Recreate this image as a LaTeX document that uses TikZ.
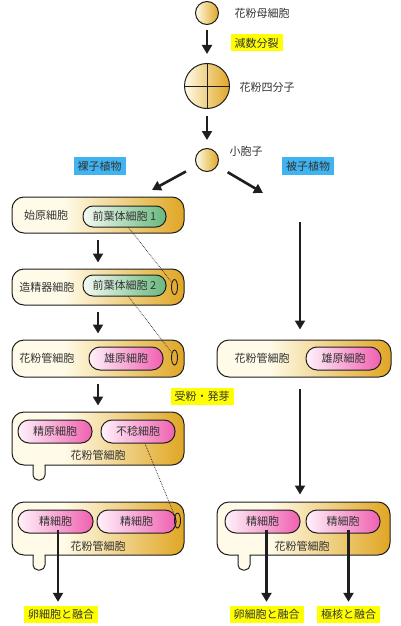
\documentclass[tikz,border=0pt]{standalone}
\usepackage{fontspec}
\newfontfamily\jp{Noto Sans CJK JP}
\usetikzlibrary{arrows.meta,shapes.geometric}
\definecolor{creamc}{RGB}{255,251,232}
\definecolor{goldc}{RGB}{224,166,36}
\definecolor{pinkc}{RGB}{240,96,176}
\definecolor{pinkl}{RGB}{255,242,250}
\definecolor{greenc}{RGB}{104,184,124}
\definecolor{greenl}{RGB}{244,250,244}
\definecolor{bluec}{RGB}{64,180,240}
\definecolor{yellowc}{RGB}{255,255,0}
\definecolor{txt}{RGB}{51,51,51}
\definecolor{linec}{RGB}{30,30,30}
\pgfdeclarehorizontalshading{boxshade}{100bp}{color(0bp)=(creamc); color(25bp)=(creamc); color(40bp)=(creamc); color(75bp)=(goldc); color(100bp)=(goldc)}
\begin{document}
\begin{tikzpicture}[x=1pt,y=-1pt,
  font=\jp\fontsize{11}{13}\selectfont, text=txt,
  outer/.style={draw=linec, line width=1pt, rounded corners=12pt, shade, shading=boxshade, inner sep=0pt},
  cell/.style={circle, draw=linec, line width=1pt, left color=creamc, right color=goldc, inner sep=0pt},
  gpill/.style={draw=linec, line width=1pt, rounded corners=10pt, left color=greenl, right color=greenc, minimum height=21pt, inner sep=0pt},
  ppill/.style={draw=linec, line width=1pt, rounded corners=11pt, left color=pinkl, right color=pinkc, minimum height=23pt, inner sep=0pt},
  ylab/.style={fill=yellowc, inner xsep=4pt, inner ysep=0pt, minimum height=17pt},
  blab/.style={fill=bluec, inner xsep=4pt, inner ysep=0pt, minimum height=18pt},
  oval/.style={ellipse, draw=linec, line width=0.9pt, minimum width=6pt, minimum height=15pt, inner sep=0pt},
  tabfill/.style={fill=creamc, rounded corners=5pt},
  tabline/.style={draw=linec, line width=1pt, rounded corners=5pt},
  dotline/.style={densely dotted, line width=0.7pt, draw=linec},
  arr/.style={draw=linec, line width=2.6pt, -{Triangle[length=9pt,width=10pt]}}
]
\useasboundingbox (0,0) rectangle (400,626);

% top cells
\node[cell, minimum size=23pt] (c1) at (207,13) {};
\node[anchor=west] (t1) at (231,13) {花粉母細胞};
\node[ylab] (l1) at (256.5,43) {減数分裂};
\node[cell, minimum size=45pt] (c2) at (207,86) {};
\draw[line width=1pt, draw=linec] (c2.north) -- (c2.south) (c2.west) -- (c2.east);
\node[anchor=west] (t2) at (236,87) {花粉四分子};
\node[cell, minimum size=23pt] (c3) at (207,160) {};
\node[anchor=west] (t3) at (226,151) {小胞子};
\node[blab] (gy) at (99.5,166) {裸子植物};
\node[blab] (an) at (308,166) {被子植物};

% left column boxes
\node[outer, minimum width=172pt, minimum height=36pt] (b1) at (98,215) {};
\node[outer, minimum width=172pt, minimum height=36pt] (b2) at (98,287) {};
\node[outer, minimum width=172pt, minimum height=37pt] (b3) at (98,358.5) {};
\node[outer, minimum width=172pt, minimum height=53pt] (b4) at (98,438.5) {};
\node[outer, minimum width=172pt, minimum height=53pt] (b5) at (98,528.5) {};
% right column boxes
\node[outer, minimum width=174pt, minimum height=37pt] (rb3) at (304,358.5) {};
\node[outer, minimum width=173pt, minimum height=53pt] (rb5) at (303.5,528.5) {};

% tabs
\fill[tabfill] (33.5,457) -- (33.5,480) -- (44.5,480) -- (44.5,457) -- cycle;
\draw[tabline] (33,465) -- (33,480) -- (45,480) -- (45,465);
\fill[tabfill] (33.5,547) -- (33.5,570) -- (44.5,570) -- (44.5,547) -- cycle;
\draw[tabline] (33,555) -- (33,570) -- (45,570) -- (45,555);
\fill[tabfill] (238.5,547) -- (238.5,570) -- (249.5,570) -- (249.5,547) -- cycle;
\draw[tabline] (238,555) -- (238,570) -- (250,570) -- (250,555);

% box texts
\node (b1t) at (46,215) {始原細胞};
\node (b2t) at (47,287) {造精器細胞};
\node (b3t) at (47,358.5) {花粉管細胞};
\node (b4t) at (98,455) {花粉管細胞};
\node (b5t) at (98,546) {花粉管細胞};
\node (rb3t) at (262,358.5) {花粉管細胞};
\node (rb5t) at (302,546) {花粉管細胞};

% inner cells
\node[gpill, minimum width=83pt] (g1) at (124.5,216.5) {前葉体細胞 1};
\node[gpill, minimum width=83pt] (g2) at (124.5,285.5) {前葉体細胞 2};
\node[ppill, minimum width=74pt] (p3) at (126,358.5) {雄原細胞};
\node[ppill, minimum width=74pt] (p41) at (55,431.5) {精原細胞};
\node[ppill, minimum width=74pt] (p42) at (138,431.5) {不稔細胞};
\node[ppill, minimum width=75pt] (p51) at (55.5,521.5) {精細胞};
\node[ppill, minimum width=79pt] (p52) at (136.5,521.5) {精細胞};
\node[ppill, minimum width=75pt] (rp3) at (343.5,358.5) {雄原細胞};
\node[ppill, minimum width=75pt] (rp51) at (262.5,521.5) {精細胞};
\node[ppill, minimum width=74pt] (rp52) at (343,521.5) {精細胞};

% small ovals
\node[oval] (e2) at (174.5,287) {};
\node[oval] (e3) at (174.5,357.5) {};
\node[oval] (e5) at (177.5,520.5) {};

% dotted lines
\draw[dotline] (g1.290) -- (e2.120);
\draw[dotline] (g2.290) -- (e3.120);
\draw[dotline] (p42.300) -- (e5.120);

% labels
\node[ylab] (pol) at (202,396) {受粉・発芽};
\node[ylab] (f1) at (61,614.5) {卵細胞と融合};
\node[ylab] (f2) at (266.5,614.5) {卵細胞と融合};
\node[ylab] (f3) at (348.5,614.5) {極核と融合};

% arrows
\coordinate (la) at (152,190);
\coordinate (ra) at (263,193);
\coordinate (rt) at (300,222);
\draw[arr, shorten <=5pt, shorten >=9pt] (c1) -- (c2);
\draw[arr, shorten <=7pt, shorten >=8pt] (c2) -- (c3);
\draw[arr, shorten <=12pt] (c3) -- (la);
\draw[arr, shorten <=12pt] (c3) -- (ra);
\draw[arr, shorten <=6pt, shorten >=6pt] (b1) -- (b2);
\draw[arr, shorten <=6pt, shorten >=6pt] (b2) -- (b3);
\draw[arr, shorten <=6pt, shorten >=6pt] (b3) -- (b4);
\draw[arr, shorten >=10pt] (rt) -- (rt |- rb3.north);
\draw[arr, shorten <=11pt, shorten >=7pt] (rb3.south -| rt) -- (rb5.north -| rt);
\draw[arr, shorten <=8pt, shorten >=4pt] ([xshift=-3pt]f1.north |- p51.center) -- ([xshift=-3pt]f1.north);
\draw[arr, shorten <=8pt, shorten >=4pt] (f2.north |- rp51.center) -- (f2.north);
\draw[arr, shorten <=8pt, shorten >=4pt] (f3.north |- rp52.center) -- (f3.north);
\end{tikzpicture}
\end{document}
